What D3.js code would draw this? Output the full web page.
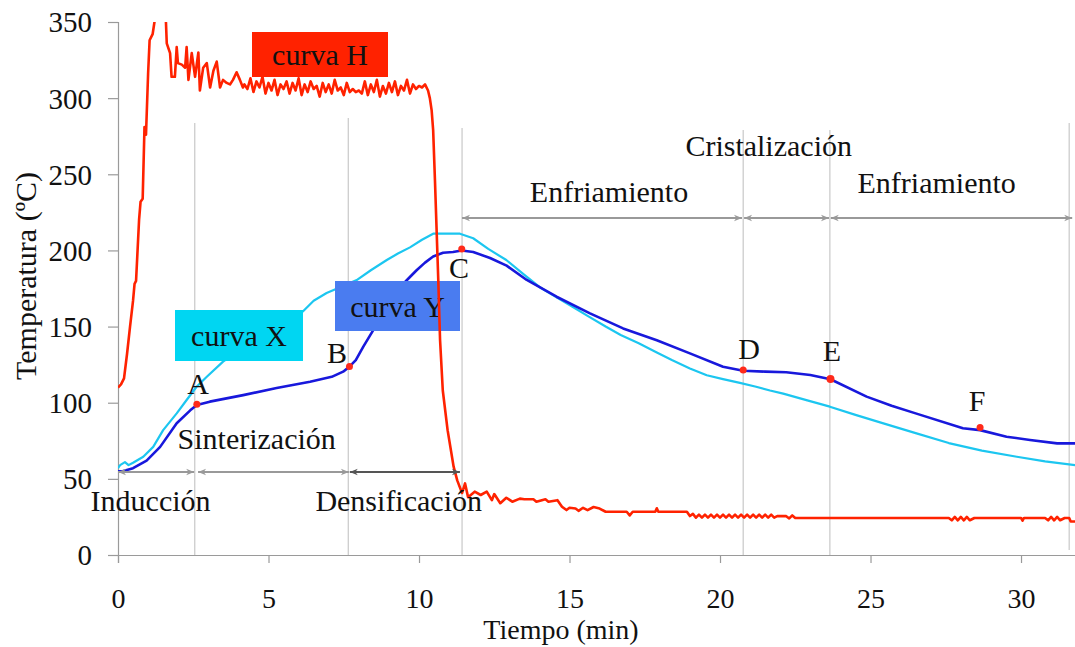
<!DOCTYPE html>
<html><head><meta charset="utf-8">
<script src="https://cdn.jsdelivr.net/npm/d3@7/dist/d3.min.js"></script>
<style>
html,body{margin:0;padding:0;background:#fff;}
svg{display:block;font-family:"Liberation Serif","Times New Roman",serif;}
</style></head>
<body>
<svg id="chart" width="1075" height="647" font-family="Liberation Serif, serif"></svg>
<script>
// ---- data ----
const xTicks = [0, 5, 10, 15, 20, 25, 30];
const yTicks = [0, 50, 100, 150, 200, 250, 300, 350];
const xTitle = "Tiempo (min)";
const yTitle = "Temperatura (ºC)";

// curva H (red): [t(min), T(°C)]
const curvaH = [
 [0,110],[0.1,112],[0.2,116],[0.3,132],[0.4,150],[0.5,167],[0.55,178],[0.6,180],[0.7,220],[0.75,232],[0.82,234],[0.88,281],[0.93,276],[1.0,316],[1.05,338],[1.15,342],[1.25,355],[1.3,368],
 [1.55,372],[1.62,336],[1.73,329.6],[1.78,314],[1.89,314],[1.95,333.6],[1.99,323],[2.12,322],[2.23,320],[2.28,333.6],[2.34,312],[2.45,329.6],[2.56,314],[2.67,330],[2.72,305],[2.83,320],[2.95,323],[3.06,307],[3.17,318],[3.28,324],[3.39,307],[3.49,312],[3.61,310],[3.72,309],[3.82,312],[3.94,317],[4.05,312],[4.15,307],
 [4.2,309],[4.3,306],[4.4,313],[4.5,304],[4.6,311],[4.7,307],[4.8,314],[4.9,303],[5.0,310],[5.1,305],[5.2,312],[5.3,302],[5.4,309],[5.5,306],[5.6,311],[5.7,303],[5.8,310],[5.9,305],[6.0,313],[6.1,302],[6.2,309],[6.3,304],[6.4,311],[6.5,306],[6.6,308],[6.7,301],[6.8,310],[6.9,304],[7.0,309],[7.1,303],[7.2,312],[7.3,305],[7.4,307],[7.5,302],[7.6,310],[7.7,304],[7.8,306],[7.9,304],[8.0,305],[8.1,303],[8.2,311],[8.3,302],[8.4,309],[8.5,304],[8.6,312],[8.7,301],[8.8,308],[8.9,303],[9.0,310],[9.1,304],[9.2,311],[9.3,302],[9.4,308],[9.5,305],[9.6,312],[9.7,303],[9.8,309],[9.9,306],[10.0,308],[10.1,307],[10.2,309],[10.3,305],
 [10.36,300],[10.42,292],[10.47,279],[10.53,246],[10.64,180.6],[10.7,141],[10.79,108],[10.95,82],[11.15,58],[11.27,49],[11.43,40.7],[11.53,47],[11.63,38],[11.85,41.6],[12.05,39.4],[12.25,41.6],[12.42,36],[12.5,40],[12.7,34],[12.9,37.6],[13.1,35],[13.35,37],[13.5,36.6],[13.8,36.6],[13.9,35],[14.2,36.6],[14.3,35],[14.6,36],[14.75,31.7],[14.9,29.5],[15.0,31],[15.2,30.5],[15.3,29],[15.45,31],[15.6,29.5],[15.8,31.5],[16.0,30.5],[16.2,28.4],[16.9,28.4],[17.0,26],[17.1,28.4],[17.85,28.4],[17.9,30.7],[17.95,28.4],[18.9,28.4],[19.0,25.6],
 [19.1,27],[19.2,24.5],[19.3,26.5],[19.4,24.5],[19.5,26.5],[19.6,24.5],[19.7,26.5],[19.8,24.5],[19.9,26.5],[20.0,24.5],[20.1,26.5],[20.2,24.5],[20.3,26.5],[20.4,24.5],[20.5,26.5],[20.6,24.5],[20.7,26.5],[20.8,24.5],[20.9,26.5],[21.0,24.5],[21.1,26.5],[21.2,24.5],[21.3,26.5],[21.4,24.5],[21.5,26.5],[21.6,24.5],[21.7,26.5],[21.8,24.5],[21.9,25.5],[22.2,25.5],[22.3,24],[22.4,26],[22.5,24.3],
 [27.6,24.3],[27.7,22.8],[27.8,25],[27.9,22.8],[28.0,25],[28.1,22.8],[28.2,25],[28.3,22.8],[28.45,24.3],[30.0,24.3],[30.05,22.5],[30.1,24.3],[30.8,24.3],[30.9,22.8],[31.0,25],[31.1,22.8],[31.2,25],[31.3,22.8],[31.45,24.3],[31.6,24.3],[31.65,22],[31.8,22]
];

// curva X (cyan)
const curvaX = [
 [0,57],[0.07,59],[0.23,61],[0.35,59],[0.5,60.6],[0.84,64.5],[1.17,71],[1.5,82],[1.95,93],[2.28,101.8],[2.61,110.5],[2.95,117],[3.49,127],[4.3,138],[5.2,150],[6.15,160],[6.5,167],[6.93,172],[7.4,176],[7.93,180.5],[8.4,187],[8.93,193.7],[9.3,198],[9.7,202],[10.1,207],[10.47,211],[11.36,211],
 [11.8,208],[12.3,201],[12.9,193.7],[13.5,184],[14.0,176],[14.5,170],[15.1,163],[15.6,157],[16.2,150],[16.7,144.5],[17.3,139],[17.9,133],[18.4,128],[19.0,122.5],[19.56,118],[20.1,115.5],[20.66,113],[21.2,110.5],[21.66,108],[22.1,106],[22.9,101.5],[23.65,97.4],[24.5,92],[25.4,86.6],[26.5,80],[27.6,73.5],[28.7,68.5],[29.86,64.5],[30.8,61.5],[31.8,59]
];

// curva Y (blue)
const curvaY = [
 [0,55],[0.15,55],[0.5,57],[0.95,62],[1.4,71],[1.95,86.5],[2.4,95],[2.62,98.5],[3.05,100.7],[4.16,105],[5.27,109.6],[6.38,113.8],[7.1,117],[7.48,120.4],[7.69,123.7],[7.9,128],[8.15,136.8],[8.48,147.7],[8.8,160],[9.2,172],[9.6,180.6],[9.92,187],[10.2,192],[10.47,196],[10.8,198.5],[11.13,199],[11.42,200],
 [11.8,199],[12.36,195],[12.91,190],[13.58,180.6],[14.57,169.6],[15.68,158.7],[16.78,148.8],[17.9,141],[19.0,132.4],[20.1,123.6],[20.77,121],[21.5,120.4],[22.2,120],[23.0,118.2],[23.67,115.4],[24.87,104],[25.7,98],[26.5,93],[28.07,83.2],[28.64,82],[29.52,77.7],[30.3,75.5],[31.2,73.3],[31.8,73.3]
];

// marked points A-F
const pointNames = ["A","B","C","D","E","F"];
const pointT = [2.62, 7.69, 11.42, 20.77, 23.67, 28.64];
const pointV = [99, 123.7, 201, 121.5, 115.5, 83.8];

// phase boundaries (vertical lines)
const phaseLinesT = [2.55, 7.65, 11.43, 20.77, 23.65, 31.6];
const phaseLinesTop = [283.7, 287, 280.4, 279, 279, 283.7];

// phase spans
const phaseNames = ["Inducción","Sinterización","Densificación","Enfriamiento","Cristalización","Enfriamiento"];
const phaseStart = [0, 2.66, 7.7, 11.43, 20.8, 23.68];
const phaseEnd = [2.53, 7.67, 11.36, 20.73, 23.62, 31.7];
const phaseLevel = [54.5, 54.5, 54.5, 221.3, 221.3, 221.3];

// legends
const legendNames = ["curva H","curva X","curva Y"];

// ---- chart ----
const svg = d3.select("#chart");
const x = d3.scaleLinear().domain([0, 31.8]).range([118, 1075.2]);
const y = d3.scaleLinear().domain([0, 350]).range([555, 22]);
const font = 30;
const ff = '"Liberation Serif","Times New Roman",serif';

svg.append("rect").attr("x",0).attr("y",0).attr("width",1075).attr("height",647).attr("fill","#ffffff");

// vertical phase lines
svg.append("g").selectAll("line").data(phaseLinesT).join("line")
  .attr("x1", d => x(d)).attr("x2", d => x(d))
  .attr("y1", (d,i) => y(phaseLinesTop[i])).attr("y2", (d,i) => i === 5 ? 550 : y(0))
  .attr("stroke", "#c8c8c8").attr("stroke-width", 1.2);

// axes
const gx = svg.append("g").attr("transform", `translate(0,${y(0)})`)
  .call(d3.axisBottom(x).tickValues(xTicks).tickSize(8).tickPadding(25).tickFormat(d3.format("d")));
const gy = svg.append("g").attr("transform", `translate(${x(0)},0)`)
  .call(d3.axisLeft(y).tickValues(yTicks).tickSize(10).tickPadding(16).tickFormat(d3.format("d")));
[gx, gy].forEach(g => {
  g.attr("font-family", ff).attr("font-size", 29);
  g.select(".domain").attr("stroke", "#9a9a9a").attr("stroke-width", 1.2);
  g.selectAll(".tick line").attr("stroke", "#9a9a9a").attr("stroke-width", 1.2);
  g.selectAll(".tick text").attr("fill", "#111").style("font-size", "29px").style("font-family", ff);
});
gx.selectAll(".tick text").style("font-size", "28px");
gx.select(".domain").attr("d", `M${x(0)},0.5H1075`);
gy.select(".domain").attr("d", `M0.5,${y(350)}V${y(0)+8}`);
gy.selectAll(".tick text").attr("dy", "0.34em");

// axis titles
svg.append("text").attr("x", 561).attr("y", 639).attr("text-anchor","middle")
  .style("font-size", "28px").attr("fill","#111").text(xTitle);
svg.append("text").attr("transform", "translate(36,276) rotate(-90)").attr("text-anchor","middle")
  .style("font-size", font+"px").attr("fill","#111").text(yTitle);

// clip
svg.append("defs").append("clipPath").attr("id","plot")
  .append("rect").attr("x", 118).attr("y", y(350)).attr("width", 1075-118).attr("height", y(0)-y(350));

const line = d3.line().x(d => x(d[0])).y(d => y(d[1]));
const plot = svg.append("g").attr("clip-path","url(#plot)");

plot.append("path").datum(curvaX).attr("d", line).attr("fill","none")
  .attr("stroke","#1cc6f0").attr("stroke-width",2.2).attr("stroke-linejoin","round");
plot.append("path").datum(curvaY).attr("d", line).attr("fill","none")
  .attr("stroke","#1818dc").attr("stroke-width",2.6).attr("stroke-linejoin","round");

// legend boxes X and Y
function box(i, x0, x1, y0, y1, fill) {
  svg.append("rect").attr("x", x0).attr("y", y0).attr("width", x1-x0).attr("height", y1-y0).attr("fill", fill);
  svg.append("text").attr("x", (x0+x1)/2).attr("y", (y0+y1)/2).attr("dy","0.35em")
    .attr("text-anchor","middle").style("font-size", font+"px").attr("fill","#111").text(legendNames[i]);
}
box(1, 175, 303, 310, 361, "#00d6f2");
box(2, 335, 460, 281, 331, "#4a7cf0");

// red curve
svg.append("g").attr("clip-path","url(#plot)").append("path").datum(curvaH).attr("d", line).attr("fill","none")
  .attr("stroke","#ff2200").attr("stroke-width",2.6).attr("stroke-linejoin","round");

box(0, 252, 388, 32, 77, "#ff2200");

// phase arrows
const defs = svg.select("defs");
function marker(id, color) {
  defs.append("marker").attr("id", id).attr("viewBox","0 -5 10 10").attr("refX", 10).attr("refY", 0)
    .attr("markerWidth", 10).attr("markerHeight", 8).attr("markerUnits","userSpaceOnUse").attr("orient", "auto")
    .append("path").attr("d","M0,-4L10,0L0,4L3,0Z").attr("fill", color);
}
marker("ag", "#999999");
marker("ad", "#555555");
phaseNames.forEach((n, i) => {
  const c = i === 2 ? "ad" : "ag";
  const col = i === 2 ? "#555555" : "#999999";
  const x0 = x(phaseStart[i]), x1 = x(phaseEnd[i]), yy = y(phaseLevel[i]);
  svg.append("line").attr("x1", x0).attr("x2", x1).attr("y1", yy).attr("y2", yy)
    .attr("stroke", col).attr("stroke-width", 2);
  svg.append("line").attr("x1", (x0+x1)/2).attr("x2", x1).attr("y1", yy).attr("y2", yy)
    .attr("stroke", "none").attr("marker-end", `url(#${c})`);
  svg.append("line").attr("x1", (x0+x1)/2).attr("x2", x0).attr("y1", yy).attr("y2", yy)
    .attr("stroke", "none").attr("marker-end", `url(#${c})`);
});
// phase labels
const phaseLabelPos = [[150.6,500],[256.7,438],[398.7,500],[609,191],[768.7,145],[936.7,182]];
phaseNames.forEach((n, i) => {
  svg.append("text").attr("x", phaseLabelPos[i][0]).attr("y", phaseLabelPos[i][1]).attr("dy","0.35em")
    .attr("text-anchor","middle").style("font-size", font+"px").attr("fill","#111").text(n);
});

// points
svg.append("g").selectAll("circle").data(pointT).join("circle")
  .attr("cx", d => x(d)).attr("cy", (d,i) => y(pointV[i])).attr("r", (d,i) => i === 4 ? 4 : 3.5)
  .attr("fill", "#ff2a1a");
const pointLabelPos = [[198,383],[337,352],[459,267],[749,348],[832,350],[977,400]];
pointNames.forEach((n,i) => {
  svg.append("text").attr("x", pointLabelPos[i][0]).attr("y", pointLabelPos[i][1]).attr("dy","0.35em")
    .attr("text-anchor","middle").style("font-size", font+"px").attr("fill","#111").text(n);
});
</script>
</body></html>
